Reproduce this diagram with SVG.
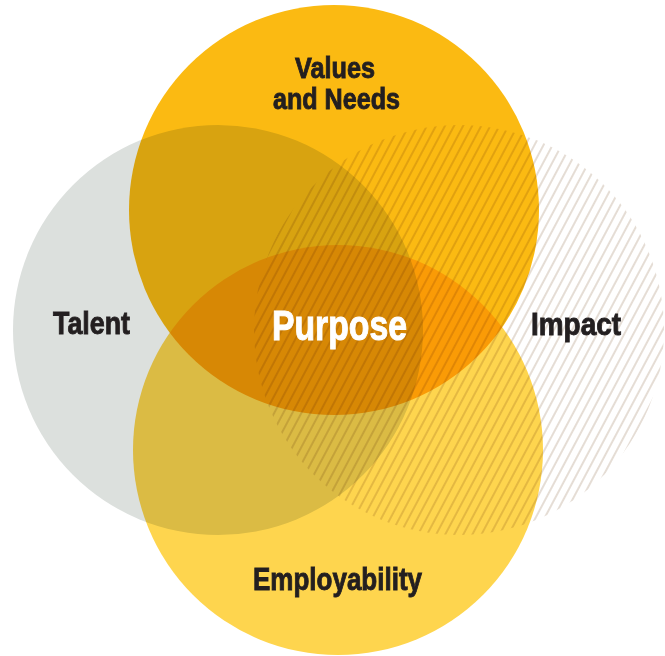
<svg xmlns="http://www.w3.org/2000/svg" width="665" height="656" viewBox="0 0 665 656">
  <defs>
    <pattern id="hatch" width="8" height="8" patternUnits="userSpaceOnUse" patternTransform="rotate(28)">
      <line x1="4" y1="-1" x2="4" y2="9" stroke="#DAcfc3" stroke-width="1.4"/>
    </pattern>
  </defs>
  <style>
    .c { mix-blend-mode: multiply; }
    .lbl { font-family: "Liberation Sans Narrow", "Liberation Sans", Arial, sans-serif; font-weight: bold; font-size: 31px; fill: #231F20; stroke: #231F20; stroke-width: 0.9px; }
    .top { font-size: 29px; }
    .main { font-family: "Liberation Sans Narrow", "Liberation Sans", Arial, sans-serif; font-weight: bold; font-size: 42px; fill: #FFFFFF; stroke: #FFFFFF; stroke-width: 1px; }
  </style>
  <rect width="665" height="656" fill="#FFFFFF"/>
  <g id="talent">
    <circle class="c" cx="218" cy="330" r="205" fill="#DCE0DD"/>
  </g>
  <g id="values">
    <circle class="c" cx="334" cy="210" r="205" fill="#FBBA12"/>
  </g>
  <g id="employability">
    <circle class="c" cx="338" cy="450" r="205" fill="#FED54E"/>
  </g>
  <g id="impact">
    <circle class="c" cx="459" cy="330" r="205" fill="url(#hatch)"/>
  </g>
  <g id="labels">
    <text class="lbl top" x="295" y="77.5" textLength="80" lengthAdjust="spacingAndGlyphs">Values</text>
    <text class="lbl top" x="273" y="108.5" textLength="127" lengthAdjust="spacingAndGlyphs">and Needs</text>
    <text class="lbl" x="53" y="334" textLength="77" lengthAdjust="spacingAndGlyphs">Talent</text>
    <text class="lbl" x="531" y="334.5" textLength="90" lengthAdjust="spacingAndGlyphs">Impact</text>
    <text class="lbl" x="253" y="590" textLength="169" lengthAdjust="spacingAndGlyphs">Employability</text>
  </g>
  <g id="purpose">
    <text class="main" x="272" y="340" textLength="135" lengthAdjust="spacingAndGlyphs">Purpose</text>
  </g>
</svg>
